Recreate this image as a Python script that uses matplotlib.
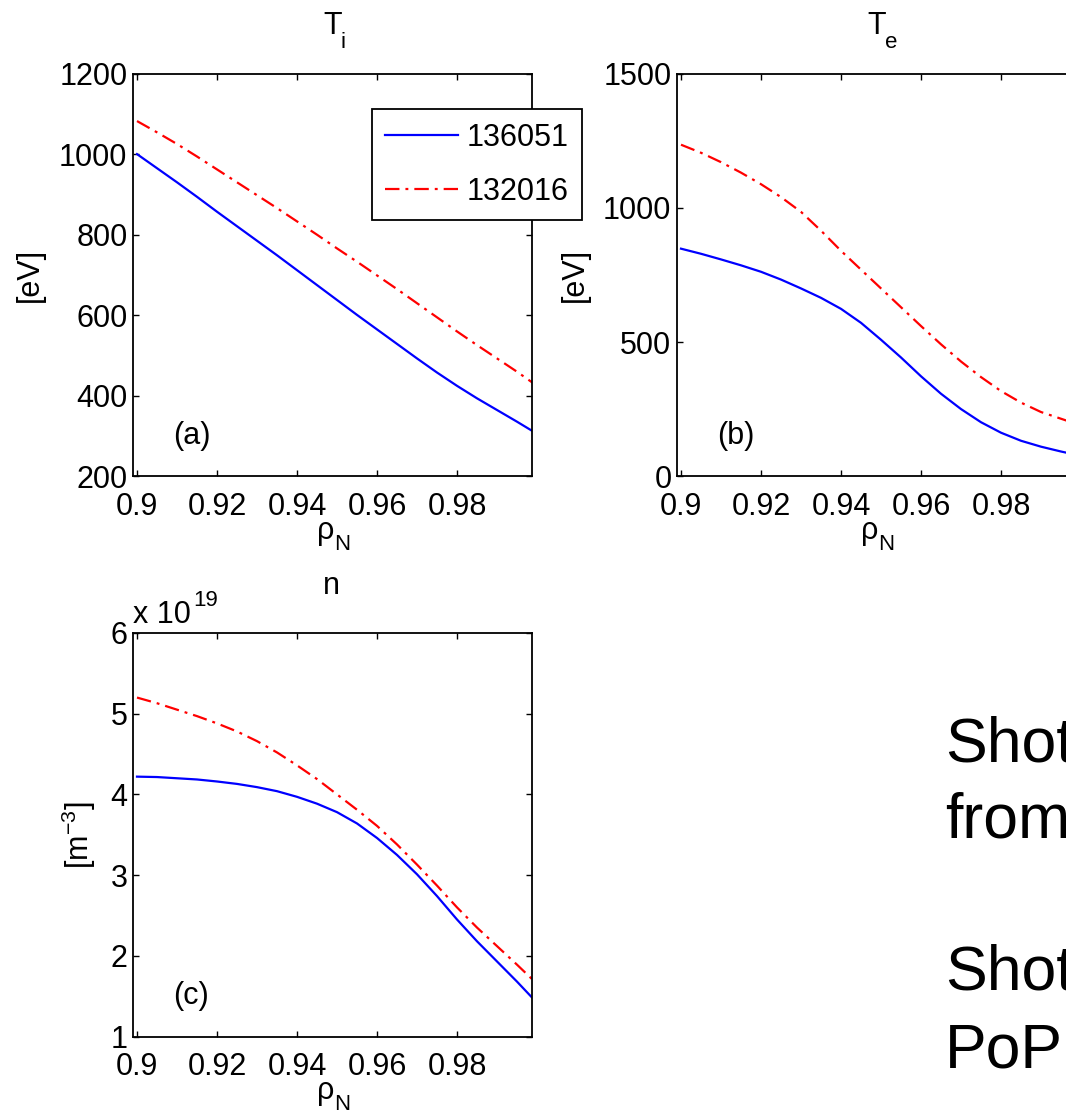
import matplotlib
matplotlib.use("Agg")
import matplotlib.pyplot as plt

plt.rcParams['font.family'] = ['Liberation Sans', 'DejaVu Sans']
plt.rcParams['mathtext.fontset'] = 'custom'
plt.rcParams['mathtext.rm'] = 'Liberation Sans'
plt.rcParams['mathtext.it'] = 'Liberation Sans:italic'
plt.rcParams['mathtext.bf'] = 'Liberation Sans:bold'
plt.rcParams['mathtext.sf'] = 'Liberation Sans'

# ---------------- data ----------------
rho = [0.9, 0.905, 0.91, 0.915, 0.92, 0.925, 0.93, 0.935, 0.94, 0.945, 0.95,
       0.955, 0.96, 0.965, 0.97, 0.975, 0.98, 0.985, 0.99, 0.995, 0.999]

ti_136051 = [1000, 965, 930, 894, 857, 821, 785, 749, 712, 675, 638,
             601, 565, 529, 493, 458, 425, 394, 365, 336, 312]
ti_132016 = [1082, 1054, 1025, 994, 962, 930, 898, 866, 833, 800, 766,
             733, 699, 665, 630, 595, 560, 526, 493, 460, 432]

te_136051 = [848, 829, 808, 786, 762, 733, 700, 665, 624, 572, 509,
             443, 373, 308, 251, 202, 163, 133, 111, 93, 80]
te_132016 = [1235, 1205, 1170, 1131, 1088, 1040, 985, 915, 840, 770, 700,
             630, 560, 492, 428, 370, 318, 275, 240, 215, 195]

n_136051 = [4.22, 4.215, 4.20, 4.185, 4.16, 4.13, 4.09, 4.04, 3.97, 3.885, 3.78,
            3.64, 3.46, 3.25, 3.01, 2.74, 2.45, 2.18, 1.93, 1.68, 1.47]
n_132016 = [5.20, 5.13, 5.05, 4.97, 4.88, 4.78, 4.66, 4.52, 4.36, 4.19, 4.00,
            3.81, 3.61, 3.38, 3.13, 2.87, 2.60, 2.35, 2.12, 1.89, 1.70]

shots = ['136051', '132016']
xticks = [0.9, 0.92, 0.94, 0.96, 0.98]
xticklabels = ['0.9', '0.92', '0.94', '0.96', '0.98']
ti_ticks = [200, 400, 600, 800, 1000, 1200]
te_ticks = [0, 500, 1000, 1500]
n_ticks = [1, 2, 3, 4, 5, 6]
side_text = ['Shot', 'from', 'Shot', 'PoP']

# ---------------- layout ----------------
W, H = 1066, 1115
fig = plt.figure(figsize=(W / 100, H / 100), dpi=100)


def px_axes(l, t, r, b):
    return fig.add_axes([l / W, 1 - b / H, (r - l) / W, (b - t) / H])


def ptext(x, y, s, fs, ha='left', va='baseline', **kw):
    return fig.text(x / W, 1 - y / H, s, fontsize=fs, ha=ha, va=va, **kw)


BLUE = '#0000FF'
RED = '#FF0000'
DASHDOT = (0, (6.5, 2.7, 1.3, 2.7))
FS = 22
SUB = 16
LW = 1.6


def style(ax, l, t, b, yticks, ylim, tmain, tsub, ylabel, tag, ylab_x):
    ax.set_xlim(0.899, 0.99875)
    ax.set_ylim(*ylim)
    ax.set_xticks(xticks)
    ax.set_xticklabels(xticklabels)
    ax.set_yticks(yticks)
    ax.set_yticklabels([str(v) for v in yticks])
    ax.tick_params(direction='in', length=4, width=1.0, top=True, right=True,
                   labelsize=FS, colors='black')
    ax.tick_params(axis='x', pad=11)
    ax.tick_params(axis='y', pad=4)
    for s in ax.spines.values():
        s.set_linewidth(1.3)
        s.set_color('black')
    # title
    ptext(l + 190, t - 39, tmain, FS)
    if tsub:
        ptext(l + 208, t - 26, tsub, SUB)
    # y label
    ax.set_ylabel(ylabel, fontsize=FS)
    ax.yaxis.set_label_coords(ylab_x, 0.5)
    # x label rho_N
    ptext(l + 184, b + 63, 'ρ', FS)
    ptext(l + 201, b + 74, 'N', SUB)
    # panel tag
    ax.text(0.1, 0.08, tag, transform=ax.transAxes, ha='left', va='baseline',
            fontsize=FS)


axA = px_axes(133, 73.5, 532, 476.5)
axB = px_axes(677, 73.5, 1076, 476.5)
axC = px_axes(133, 633, 532, 1036.5)

axA.plot(rho, ti_136051, color=BLUE, lw=LW, label=shots[0])
axA.plot(rho, ti_132016, color=RED, lw=LW, linestyle=DASHDOT, label=shots[1])
style(axA, 133, 73.5, 476.5, ti_ticks, (200, 1200), 'T', 'i', '[eV]', '(a)', -0.22)

axB.plot(rho, te_136051, color=BLUE, lw=LW)
axB.plot(rho, te_132016, color=RED, lw=LW, linestyle=DASHDOT)
style(axB, 677, 73.5, 476.5, te_ticks, (0, 1500), 'T', 'e', '[eV]', '(b)', -0.218)

axC.plot(rho, n_136051, color=BLUE, lw=LW)
axC.plot(rho, n_132016, color=RED, lw=LW, linestyle=DASHDOT)
style(axC, 133, 633, 1036.5, n_ticks, (1, 6), 'n', None,
      r'$\mathrm{[m^{-3}]}$', '(c)', -0.088)

# exponent label of panel (c)
ptext(133, 623, 'x 10', FS)
ptext(193, 606, '19', SUB)

leg = axA.legend(loc='upper left', bbox_to_anchor=(371.7 / W, 1 - 109 / H),
                 bbox_transform=fig.transFigure, borderaxespad=0,
                 fontsize=FS, frameon=True, fancybox=False, framealpha=1,
                 edgecolor='black', borderpad=0.45, labelspacing=0.78,
                 handlelength=2.36, handletextpad=0.3)
leg.get_frame().set_linewidth(1.3)

# right-side text (cut off at the figure edge in the original)
baselines = [762, 837, 990, 1067]
for txt, yb in zip(side_text, baselines):
    ptext(945, yb, txt, 45, color='black')

fig.savefig('out.png', dpi=100)
